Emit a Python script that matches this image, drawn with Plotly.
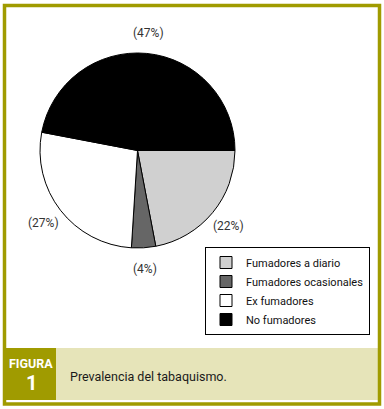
import math
import plotly.graph_objects as go

# Smoking prevalence
categories = ["Fumadores a diario", "Fumadores ocasionales", "Ex fumadores", "No fumadores"]
values = [22, 4, 27, 47]
colors = ["#d0d0d0", "#666666", "#ffffff", "#000000"]

caption = "Prevalencia del tabaquismo."
fig_tag = "FIGURA"
fig_num = "1"

W, H = 384, 409
OLIVE = "#a09b00"
BAND = "#e6e4b9"
FONT = "Roboto, Lato, sans-serif"


def px(x):
    return x / W


def py(y):
    return 1 - y / H


# pie placement (pixels)
cx, cy, r = 137.5, 150.5, 97.5

fig = go.Figure()
fig.add_trace(go.Pie(
    labels=categories,
    values=values,
    sort=False,
    direction="clockwise",
    rotation=90,
    marker=dict(colors=colors, line=dict(color="#000000", width=1)),
    textinfo="none",
    hoverinfo="label+percent",
    domain=dict(x=[px(cx - r), px(cx + r)], y=[py(cy + r), py(cy - r)]),
))

# percentage labels placed outside each slice, at its middle angle
total = sum(values)
acc = 0
annotations = []
for v in values:
    mid = (acc + v / 2) / total * 2 * math.pi
    acc += v
    R = r + 21
    lx = cx + R * math.cos(mid)
    ly = cy + R * math.sin(mid)
    annotations.append(dict(
        x=px(lx), y=py(ly), xref="paper", yref="paper",
        text=f"({v}%)", showarrow=False,
        font=dict(family=FONT, size=12, color="#333333"),
        xanchor="center", yanchor="middle",
    ))

annotations += [
    dict(x=px(31), y=py(363), xref="paper", yref="paper", text=f"<b>{fig_tag}</b>",
         showarrow=False, font=dict(family=FONT, size=12.5, color="#ffffff"),
         xanchor="center", yanchor="middle"),
    dict(x=px(31), y=py(383), xref="paper", yref="paper", text=f"<b>{fig_num}</b>",
         showarrow=False, font=dict(family=FONT, size=20, color="#ffffff"),
         xanchor="center", yanchor="middle"),
    dict(x=px(68), y=py(376), xref="paper", yref="paper", text=caption,
         showarrow=False, font=dict(family=FONT, size=12.5, color="#1a1a1a"),
         xanchor="left", yanchor="middle"),
]

shapes = [
    # caption band and figure tag box
    dict(type="rect", xref="paper", yref="paper", x0=px(5), x1=px(379), y0=py(400), y1=py(348),
         fillcolor=BAND, line=dict(width=0), layer="below"),
    dict(type="rect", xref="paper", yref="paper", x0=px(5.5), x1=px(56), y0=py(400), y1=py(348),
         fillcolor=OLIVE, line=dict(width=0), layer="below"),
    # outer frame
    dict(type="rect", xref="paper", yref="paper", x0=px(4.5), x1=px(379.5), y0=py(404), y1=py(5.5),
         line=dict(color=OLIVE, width=3.5)),
]

fig.update_layout(
    width=W, height=H,
    margin=dict(l=0, r=0, t=0, b=0),
    paper_bgcolor="#ffffff",
    plot_bgcolor="#ffffff",
    showlegend=True,
    legend=dict(
        x=px(205), y=py(247), xanchor="left", yanchor="top",
        bordercolor="#000000", borderwidth=1, bgcolor="#ffffff",
        font=dict(family=FONT, size=11, color="#111111"),
        itemwidth=30, tracegroupgap=0,
    ),
    annotations=annotations,
    shapes=shapes,
)

fig.write_html("out.html")
